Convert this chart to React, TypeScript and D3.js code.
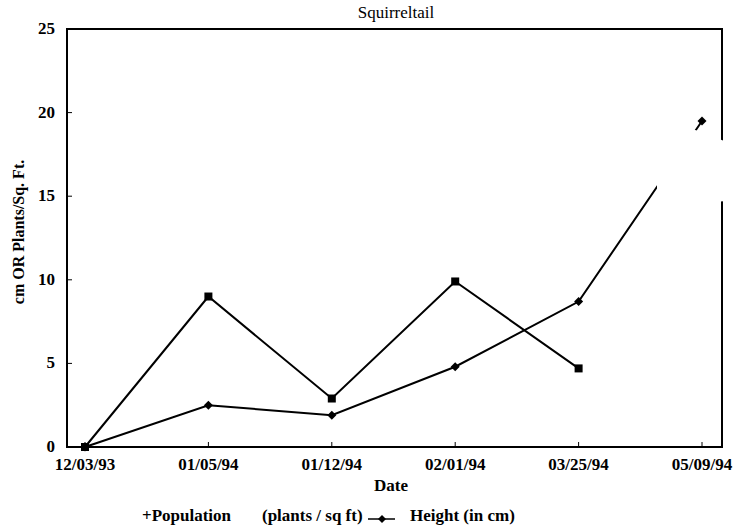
import React from "react";
import * as d3 from "d3";

const dates = ["12/03/93", "01/05/94", "01/12/94", "02/01/94", "03/25/94", "05/09/94"];
const population: (number | null)[] = [0, 9.0, 2.9, 9.9, 4.7, null];
const height: (number | null)[] = [0, 2.5, 1.9, 4.8, 8.7, 19.5];
const yTicks = [0, 5, 10, 15, 20, 25];

const W = 748, H = 531;
const left = 67, right = 722, top = 29, bottom = 447;
const font = "'Liberation Serif', 'Times New Roman', 'DejaVu Serif', serif";

export default function App() {
  const x = d3.scalePoint<string>().domain(dates).range([85, 702]);
  const y = d3.scaleLinear().domain([0, 25]).range([bottom, top]);
  const mk = (vals: (number | null)[]) =>
    d3.line<number | null>()
      .defined((d) => d !== null)
      .x((_, i) => x(dates[i])!)
      .y((d) => y(d as number))(vals) || "";
  const ts: React.CSSProperties = { fontFamily: font };
  return (
    <svg width={W} height={H} style={{ position: "absolute", left: 0, top: 0, background: "#fff", fontFamily: font }}>
      <rect x={0} y={0} width={W} height={H} fill="#fff" />
      <text x={396} y={18} textAnchor="middle" fontSize={17} style={ts}>Squirreltail</text>
      <rect x={left} y={top} width={right - left} height={bottom - top} fill="none" stroke="#000" strokeWidth={2} />
      {yTicks.map((t) => (
        <g key={t}>
          <line x1={left} x2={left + 5} y1={y(t)} y2={y(t)} stroke="#000" strokeWidth={1} />
          <text x={55} y={y(t) + 5} textAnchor="end" fontSize={17} fontWeight="bold" style={ts}>{t}</text>
        </g>
      ))}
      {dates.map((d) => (
        <g key={d}>
          <line x1={x(d)} x2={x(d)} y1={bottom} y2={bottom - 5} stroke="#000" strokeWidth={1} />
          <text x={x(d)} y={470} textAnchor="middle" fontSize={17} fontWeight="bold" style={ts}>{d}</text>
        </g>
      ))}
      <text x={391} y={491} textAnchor="middle" fontSize={17} fontWeight="bold" style={ts}>Date</text>
      <text transform={`translate(24,232) rotate(-90)`} textAnchor="middle" fontSize={16} fontWeight="bold" style={ts}>cm OR Plants/Sq. Ft.</text>
      <path d={mk(population)} fill="none" stroke="#000" strokeWidth={2} />
      <path d={mk(height)} fill="none" stroke="#000" strokeWidth={2} />
      {population.map((v, i) =>
        v === null ? null : (
          <rect key={"p" + i} x={x(dates[i])! - 4} y={y(v) - 4} width={8} height={8} fill="#000" />
        )
      )}
      {height.map((v, i) =>
        v === null ? null : (
          <path key={"h" + i} transform={`translate(${x(dates[i])},${y(v)})`} d="M0,-4.5L4.5,0L0,4.5L-4.5,0Z" fill="#000" />
        )
      )}
      <polygon points="657,206 657,182 690,128 727,142 727,201" fill="#fff" />
      <text x={142} y={521} fontSize={17} fontWeight="bold" style={ts}>+Population</text>
      <text x={262} y={521} fontSize={17} fontWeight="bold" style={ts}>(plants / sq ft)</text>
      <line x1={368} x2={395} y1={519} y2={519} stroke="#000" strokeWidth={1.5} />
      <path transform="translate(382,519)" d="M0,-4L4,0L0,4L-4,0Z" fill="#000" />
      <text x={410} y={521} fontSize={17} fontWeight="bold" style={ts}>Height (in cm)</text>
    </svg>
  );
}
